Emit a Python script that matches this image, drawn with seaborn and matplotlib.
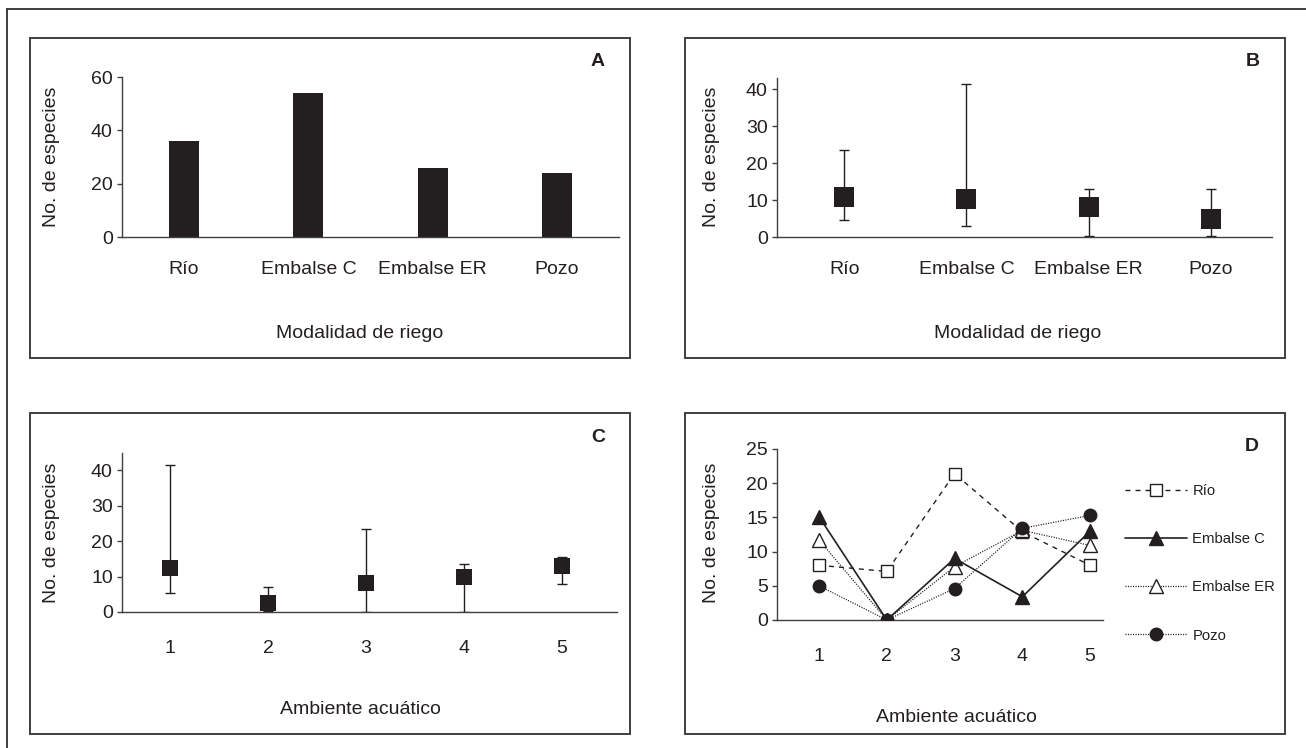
import matplotlib
matplotlib.use("Agg")
import matplotlib.pyplot as plt
import seaborn as sns
import pandas as pd
import numpy as np
from matplotlib.patches import Rectangle
from matplotlib.lines import Line2D

# ---------------- data ----------------
riego = ["Río", "Embalse C", "Embalse ER", "Pozo"]
especies_total = [36, 54, 26, 24]

b_media = [10.8, 10.2, 8.0, 5.0]
b_min = [4.5, 2.9, 0.3, 0.3]
b_max = [23.5, 41.4, 13.0, 13.0]

ambiente = [1, 2, 3, 4, 5]
c_media = [12.5, 2.4, 8.1, 9.8, 12.9]
c_min = [5.4, 0.2, 0.1, 0.1, 8.0]
c_max = [41.3, 7.1, 23.4, 13.4, 15.6]

d_rio = [8.0, 7.1, 21.4, 12.9, 8.0]
d_emb_c = [15.1, 0.0, 9.0, 3.4, 13.0]
d_emb_er = [11.7, 0.0, 7.8, 13.1, 10.9]
d_pozo = [5.0, 0.0, 4.6, 13.4, 15.3]

y_ticks_a = [0, 20, 40, 60]
y_ticks_bc = [0, 10, 20, 30, 40]
y_ticks_d = [0, 5, 10, 15, 20, 25]

# ---------------- style ----------------
sns.set_theme(style="white")
plt.rcParams["font.family"] = ["Liberation Sans", "DejaVu Sans"]
INK = "#231f20"
AX = "#404040"
FS = 14

W, H = 1306, 748
fig = plt.figure(figsize=(W / 100, H / 100), dpi=100)


def ax_at(l, r, t, b):
    return fig.add_axes([l / W, 1 - b / H, (r - l) / W, (b - t) / H])


def style_axes(ax, xpad):
    sns.despine(ax=ax)
    for s in ("left", "bottom"):
        ax.spines[s].set_color(AX)
        ax.spines[s].set_linewidth(1.0)
    ax.tick_params(axis="y", which="both", direction="out", length=3.6, width=1,
                   color=AX, labelsize=FS, labelcolor=INK, pad=3, left=True)
    ax.tick_params(axis="x", length=0, labelsize=FS, labelcolor=INK, pad=xpad)
    ax.set_xlabel("")
    ax.set_ylabel("")
    ax.grid(False)


def ftext(x, y, s, **kw):
    kw.setdefault("ha", "center")
    kw.setdefault("va", "center")
    kw.setdefault("color", INK)
    kw.setdefault("fontsize", FS)
    fig.text(x / W, 1 - y / H, s, **kw)


def box(l, t, r, b):
    fig.add_artist(Rectangle((l / W, 1 - b / H), (r - l) / W, (b - t) / H,
                             transform=fig.transFigure, fill=False,
                             ec="#303030", lw=1.3))


# outer frame (top and left edges visible)
fig.add_artist(Line2D([7 / W, 1.0], [1 - 9 / H, 1 - 9 / H], transform=fig.transFigure,
                      color="#303030", lw=1.3))
fig.add_artist(Line2D([7 / W, 7 / W], [1 - 9 / H, 0.0], transform=fig.transFigure,
                      color="#303030", lw=1.3))

box(30, 38, 630, 358)
box(685, 38, 1285, 358)
box(30, 413, 630, 734)
box(685, 413, 1285, 734)

# ---------------- A ----------------
axA = ax_at(122, 619, 77, 237)
sns.barplot(x=riego, y=especies_total, ax=axA, color=INK, saturation=1,
            width=0.24, edgecolor="none")
axA.set_xlim(-0.5, 3.5)
axA.set_ylim(0, 60)
axA.set_yticks(y_ticks_a)
style_axes(axA, 17)
ftext(598, 61, "A", fontweight="bold")
ftext(360, 333, "Modalidad de riego")
ftext(51, 157, "No. de especies", rotation=90)

# ---------------- B ----------------
axB = ax_at(777, 1272, 78, 237)
dfB = pd.DataFrame({"riego": riego, "media": b_media})
xb = np.arange(len(riego))
axB.errorbar(xb, b_media,
             yerr=[np.array(b_media) - np.array(b_min), np.array(b_max) - np.array(b_media)],
             fmt="none", ecolor=INK, elinewidth=1.0, capsize=3.5, capthick=1.0, zorder=2)
sns.scatterplot(data=dfB, x="riego", y="media", ax=axB, marker="s", s=14 ** 2,
                color=INK, linewidth=0, zorder=3)
axB.set_xlim(-0.55, 3.5)
axB.set_ylim(0, 43)
axB.set_yticks(y_ticks_bc)
style_axes(axB, 17)
ftext(1253, 61, "B", fontweight="bold")
ftext(1018, 333, "Modalidad de riego")
ftext(712, 157, "No. de especies", rotation=90)

# ---------------- C ----------------
axC = ax_at(122, 617, 453, 612)
axC.errorbar(ambiente, c_media,
             yerr=[np.array(c_media) - np.array(c_min), np.array(c_max) - np.array(c_media)],
             fmt="none", ecolor=INK, elinewidth=1.0, capsize=3.5, capthick=1.0, zorder=2)
sns.scatterplot(x=ambiente, y=c_media, ax=axC, marker="s", s=11.5 ** 2,
                color=INK, linewidth=0, zorder=3)
axC.set_xlim(0.51, 5.56)
axC.set_ylim(0, 44.8)
axC.set_xticks(ambiente)
axC.set_yticks(y_ticks_bc)
style_axes(axC, 20)
ftext(598, 437, "C", fontweight="bold")
ftext(360, 710, "Ambiente acuático")
ftext(51, 533, "No. de especies", rotation=90)

# ---------------- D ----------------
axD = ax_at(777, 1103, 449, 620)
sns.lineplot(x=ambiente, y=d_rio, ax=axD, color=INK, lw=1.0,
             linestyle=(0, (3.6, 3.6)), marker="s", markersize=9,
             markerfacecolor="white", markeredgecolor=INK, markeredgewidth=1.0,
             label="Río", zorder=3)
sns.lineplot(x=ambiente, y=d_emb_c, ax=axD, color=INK, lw=1.2,
             linestyle="-", marker="^", markersize=10,
             markerfacecolor=INK, markeredgecolor=INK, markeredgewidth=1.0,
             label="Embalse C", zorder=4)
sns.lineplot(x=ambiente, y=d_emb_er, ax=axD, color=INK, lw=0.9,
             linestyle=(0, (0.9, 1.1)), marker="^", markersize=10,
             markerfacecolor="white", markeredgecolor=INK, markeredgewidth=1.0,
             label="Embalse ER", zorder=3)
sns.lineplot(x=ambiente, y=d_pozo, ax=axD, color=INK, lw=0.9,
             linestyle=(0, (0.9, 1.1)), marker="o", markersize=9,
             markerfacecolor=INK, markeredgecolor=INK, markeredgewidth=1.0,
             label="Pozo", zorder=5)
axD.set_xlim(0.38, 5.19)
axD.set_ylim(0, 25)
axD.set_xticks(ambiente)
axD.set_yticks(y_ticks_d)
style_axes(axD, 20)
axD.legend(loc="upper left", bbox_to_anchor=(1125 / W, 1 - 484 / H),
           bbox_transform=fig.transFigure, frameon=False, fontsize=10.7,
           borderpad=0, borderaxespad=0, handlelength=4.2, handletextpad=0.34,
           labelspacing=2.3, labelcolor=INK)
ftext(1252, 446, "D", fontweight="bold")
ftext(956, 718, "Ambiente acuático")
ftext(712, 533, "No. de especies", rotation=90)

fig.savefig("out.png", dpi=100, facecolor="white")
